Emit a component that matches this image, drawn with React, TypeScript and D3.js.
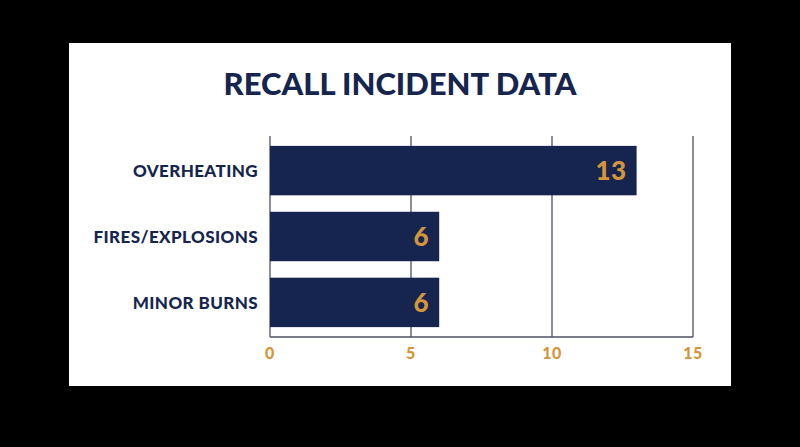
import React, { useRef, useEffect } from 'react';
import * as d3 from 'd3';

const categories = ['OVERHEATING', 'FIRES/EXPLOSIONS', 'MINOR BURNS'];
const incidents = [13, 6, 6];
const tickValues = [0, 5, 10, 15];
const title = 'RECALL INCIDENT DATA';

const COLORS = {
    bg: '#000000',
    panel: '#ffffff',
    navy: '#15254f',
    grid: '#4b5167',
    orange: '#d5963b',
};

const W = 800;
const H = 447;
const FONT = 'Lato, "Open Sans", sans-serif';

const App: React.FC = () => {
    const ref = useRef<SVGSVGElement>(null);

    useEffect(() => {
        if (!ref.current) return;
        const svg = d3.select(ref.current);
        svg.selectAll('*').remove();

        svg.append('rect').attr('width', W).attr('height', H).attr('fill', COLORS.bg);
        svg.append('rect')
            .attr('x', 69).attr('y', 43)
            .attr('width', 662).attr('height', 343)
            .attr('fill', COLORS.panel);

        svg.append('text')
            .attr('x', 400)
            .attr('y', 95)
            .attr('text-anchor', 'middle')
            .style('font-family', FONT)
            .style('font-weight', 900)
            .style('font-size', '31px')
            .style('fill', COLORS.navy)
            .text(title);

        const x = d3.scaleLinear().domain([0, 15]).range([270, 693]);
        const y = d3.scaleBand<string>()
            .domain(categories)
            .range([136, 337])
            .paddingInner(0.25)
            .paddingOuter(0.15);

        // vertical gridlines
        svg.append('g')
            .selectAll('line')
            .data(tickValues)
            .enter()
            .append('line')
            .attr('x1', d => x(d))
            .attr('x2', d => x(d))
            .attr('y1', 136)
            .attr('y2', 337)
            .attr('stroke', COLORS.grid)
            .attr('stroke-width', 1.3);

        // bottom axis line
        svg.append('line')
            .attr('x1', x(0)).attr('x2', x(15))
            .attr('y1', 337).attr('y2', 337)
            .attr('stroke', COLORS.grid)
            .attr('stroke-width', 1.3);

        const rows = categories.map((c, i) => ({ c, v: incidents[i] }));

        svg.append('g')
            .selectAll('rect')
            .data(rows)
            .enter()
            .append('rect')
            .attr('x', x(0))
            .attr('y', d => y(d.c) as number)
            .attr('width', d => x(d.v) - x(0))
            .attr('height', y.bandwidth())
            .attr('fill', COLORS.navy);

        svg.append('g')
            .selectAll('text')
            .data(rows)
            .enter()
            .append('text')
            .attr('x', d => x(d.v) - 10)
            .attr('y', d => (y(d.c) as number) + y.bandwidth() / 2)
            .attr('dy', '0.36em')
            .attr('text-anchor', 'end')
            .style('font-family', FONT)
            .style('font-weight', 900)
            .style('font-size', '26px')
            .style('letter-spacing', '0.5px')
            .style('fill', COLORS.orange)
            .text(d => d.v);

        svg.append('g')
            .selectAll('text')
            .data(categories)
            .enter()
            .append('text')
            .attr('x', 258)
            .attr('y', d => (y(d) as number) + y.bandwidth() / 2)
            .attr('dy', '0.36em')
            .attr('text-anchor', 'end')
            .style('font-family', FONT)
            .style('font-weight', 900)
            .style('font-size', '17px')
            .style('letter-spacing', '0.4px')
            .style('fill', COLORS.navy)
            .text(d => d);

        svg.append('g')
            .selectAll('text')
            .data(tickValues)
            .enter()
            .append('text')
            .attr('x', d => x(d))
            .attr('y', 353)
            .attr('dy', '0.36em')
            .attr('text-anchor', 'middle')
            .style('font-family', FONT)
            .style('font-weight', 900)
            .style('font-size', '16px')
            .style('letter-spacing', '0.5px')
            .style('fill', COLORS.orange)
            .text(d => d);
    }, []);

    return (
        <div style={{ position: 'absolute', left: 0, top: 0 }}>
            <svg ref={ref} width={W} height={H} style={{ display: 'block' }}></svg>
        </div>
    );
};

export default App;
